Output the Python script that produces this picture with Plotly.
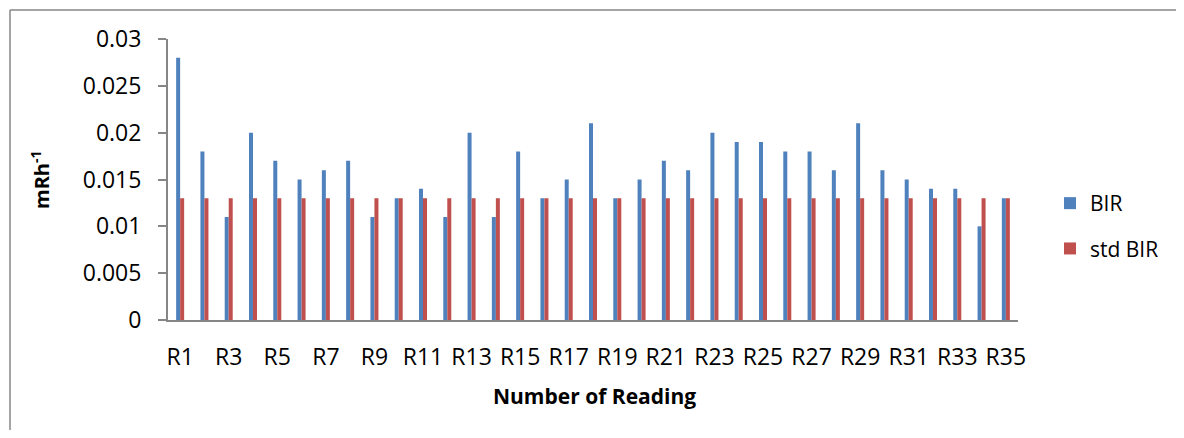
import plotly.graph_objects as go

categories = [f"R{i}" for i in range(1, 36)]
bir = [0.028, 0.018, 0.011, 0.020, 0.017, 0.015, 0.016, 0.017, 0.011, 0.013,
       0.014, 0.011, 0.020, 0.011, 0.018, 0.013, 0.015, 0.021, 0.013, 0.015,
       0.017, 0.016, 0.020, 0.019, 0.019, 0.018, 0.018, 0.016, 0.021, 0.016,
       0.015, 0.014, 0.014, 0.010, 0.013]
std_bir = [0.013] * 35
x_ticklabels = categories[::2]

FONT = "Open Sans"
OFF = 8  # default page body margin
W, H = 1184 - 2 * OFF, 438 - 2 * OFF
L, T, pw, ph = 160, 31, 850, 281
R, B = W - L - pw, H - T - ph


def sx(px):
    return (px - OFF - L) / pw


def sy(py):
    return (T + ph - (py - OFF)) / ph


fig = go.Figure()
fig.add_trace(go.Bar(x=categories, y=bir, name="BIR",
                     marker=dict(color="#4F81BD", line=dict(width=0)), legendgroup="a"))
fig.add_trace(go.Bar(x=categories, y=std_bir, name="std BIR",
                     marker=dict(color="#C0504D", line=dict(width=0)), legendgroup="b"))

border = dict(color="#868686", width=1.5)

fig.update_layout(
    width=W, height=H,
    margin=dict(l=L, r=R, t=T, b=B, pad=0, autoexpand=False),
    paper_bgcolor="white", plot_bgcolor="white",
    barmode="group", bargap=0.67, bargroupgap=0,
    font=dict(family=FONT, color="black", size=20),
    showlegend=True,
    legend=dict(x=sx(1050), y=sy(183), xanchor="left", yanchor="top",
                font=dict(size=21), traceorder="grouped", tracegroupgap=15,
                itemwidth=30, bgcolor="rgba(0,0,0,0)"),
    xaxis=dict(showline=True, linecolor="#868686", linewidth=2, ticks="outside", ticklen=15,
               tickcolor="rgba(0,0,0,0)", tickvals=x_ticklabels, ticktext=x_ticklabels,
               tickfont=dict(size=23), showgrid=False, zeroline=False, automargin=False),
    yaxis=dict(range=[0, 0.03], dtick=0.005, showline=True, linecolor="#868686", linewidth=2,
               ticks="outside", ticklen=8, tickcolor="#868686", tickwidth=2,
               ticklabelstandoff=12, tickfont=dict(size=23),
               showgrid=False, zeroline=False, automargin=False),
    annotations=[
        dict(text="<b>mRh<sup>-1</sup></b>", textangle=-90, x=sx(40), y=sy(180),
             xanchor="center", yanchor="middle",
             xref="paper", yref="paper", showarrow=False, font=dict(size=20)),
        dict(text="<b>Number of Reading</b>", x=sx(594), y=sy(396),
             xanchor="center", yanchor="middle",
             xref="paper", yref="paper", showarrow=False, font=dict(size=21)),
    ],
    shapes=[
        dict(type="line", xref="paper", yref="paper",
             x0=sx(10), x1=sx(1176), y0=sy(10), y1=sy(10), line=border, layer="below"),
        dict(type="line", xref="paper", yref="paper",
             x0=sx(10), x1=sx(10), y0=sy(10), y1=sy(430), line=border, layer="below"),
    ],
)

fig.write_html("out.html")
